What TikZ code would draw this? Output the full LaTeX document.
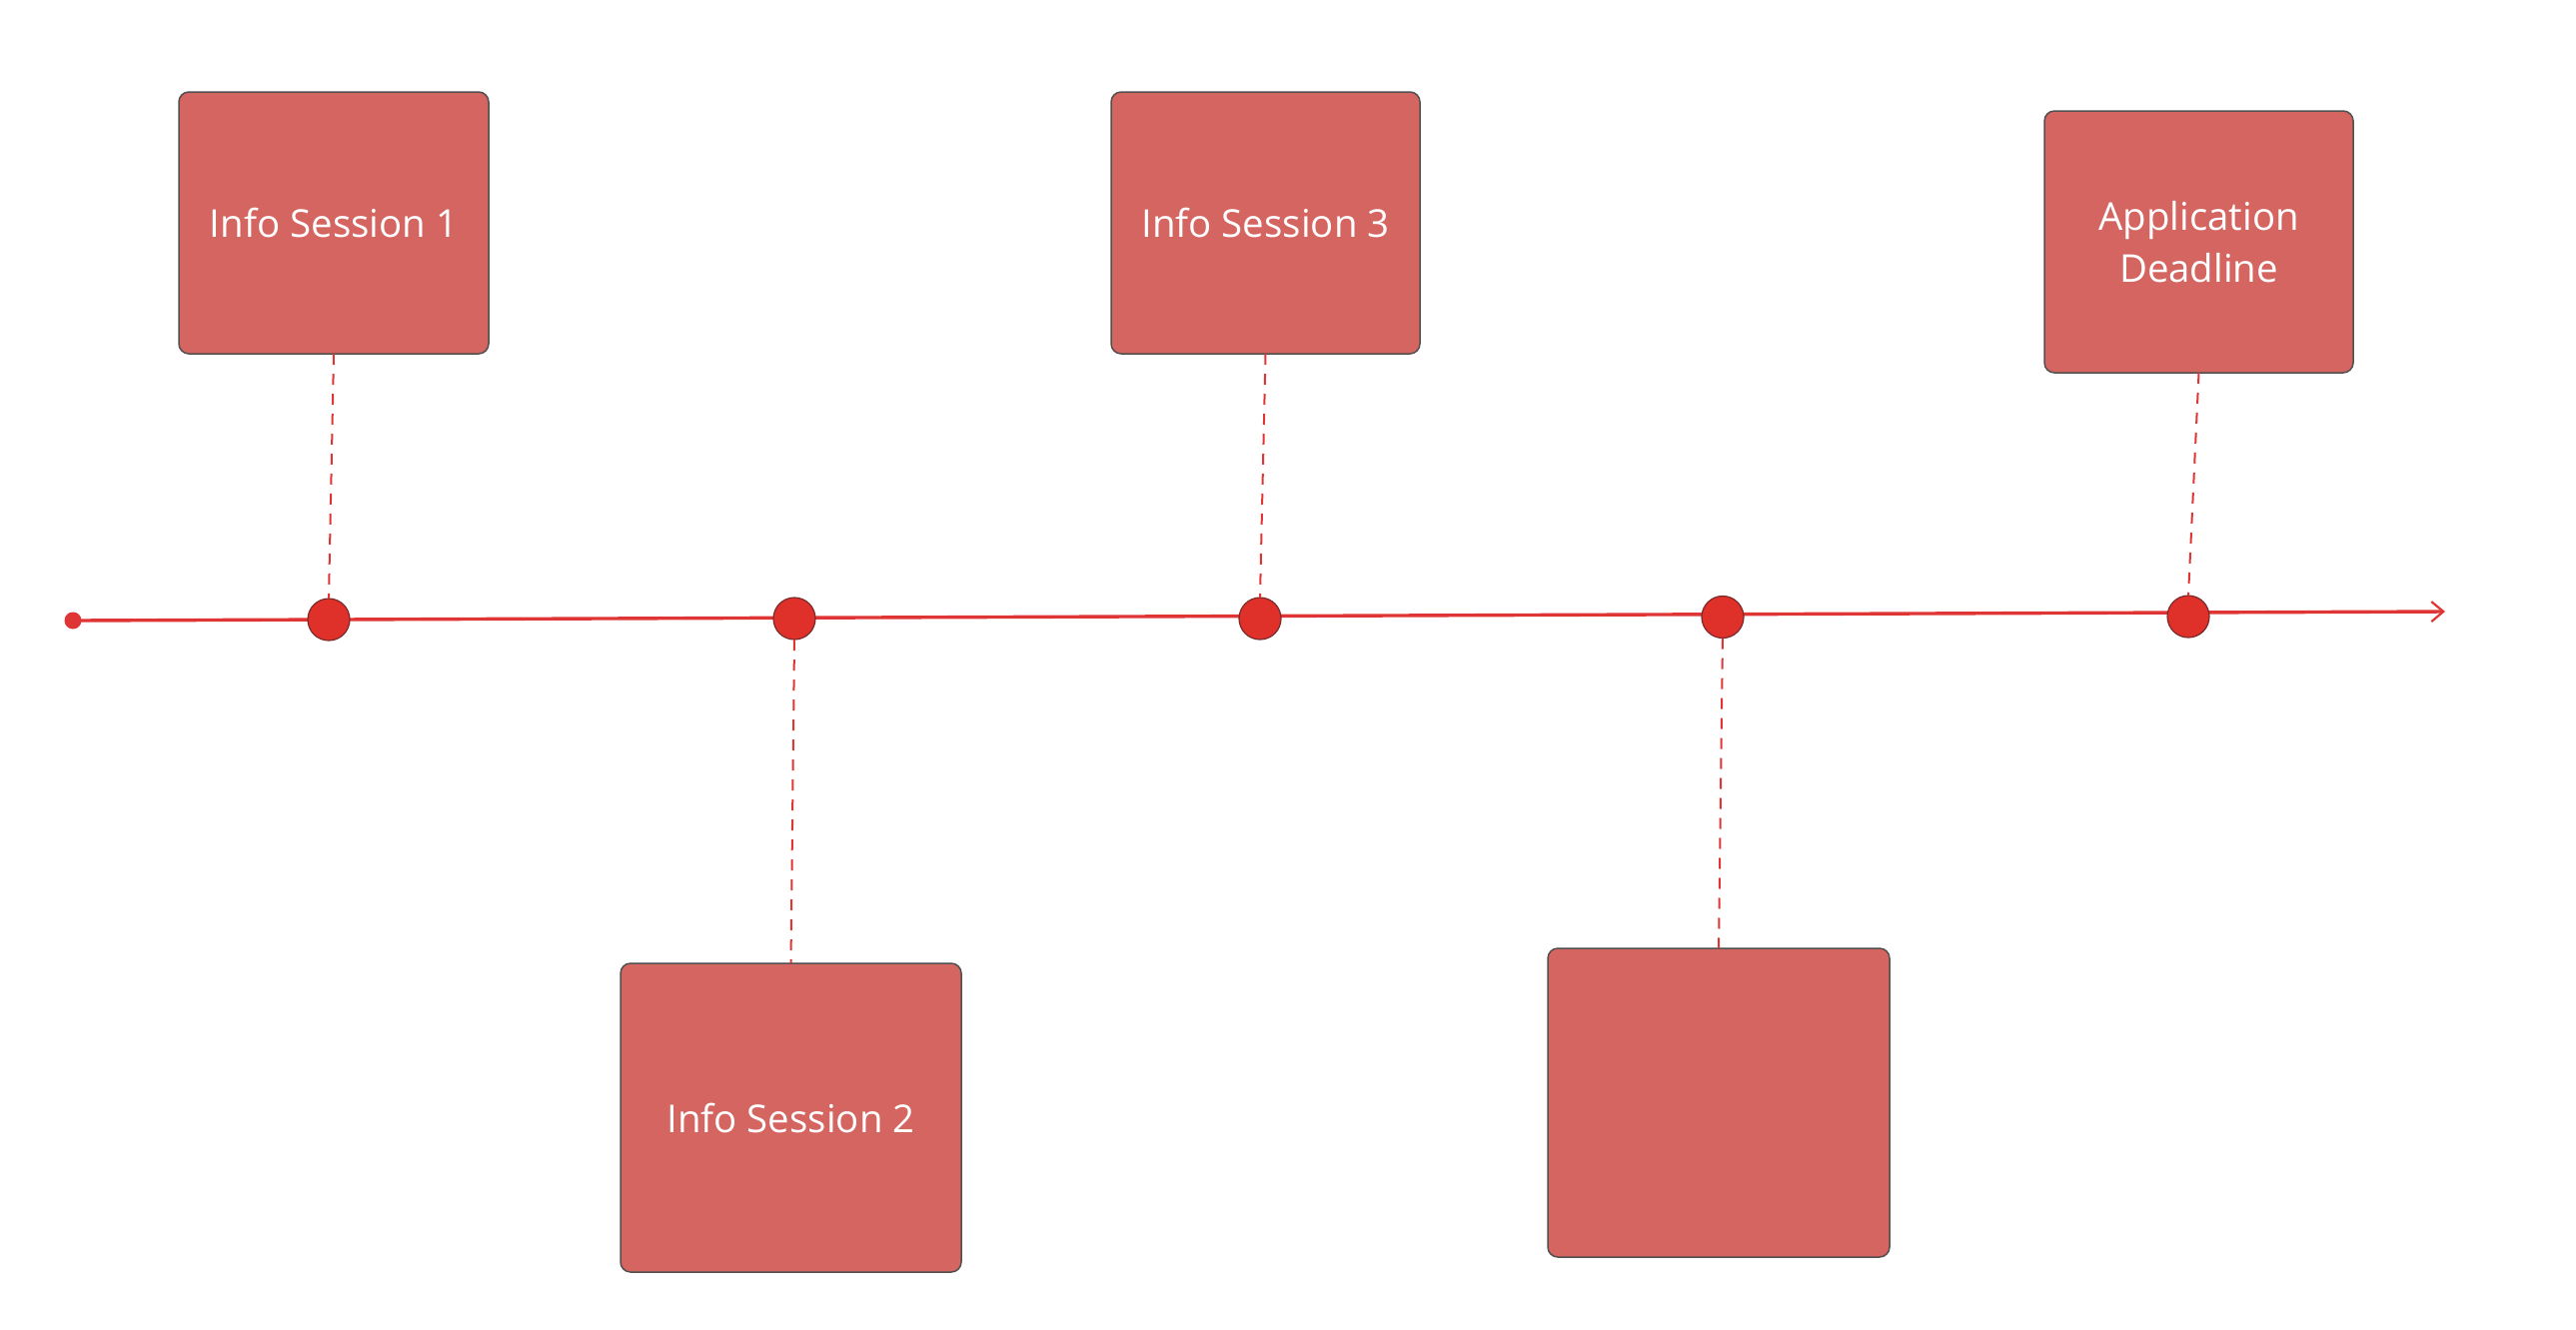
\documentclass[tikz,border=0pt]{standalone}
\usepackage{fontspec}
\setmainfont{Open Sans}
\usetikzlibrary{arrows.meta,backgrounds}
\definecolor{boxfill}{HTML}{D46560}
\definecolor{boxline}{HTML}{505050}
\definecolor{dotfill}{HTML}{E0302A}
\definecolor{dotline}{HTML}{7A2A2A}
\definecolor{tline}{HTML}{E03535}
\tikzset{
  evbox/.style={draw=boxline, line width=0.75pt, fill=boxfill, rounded corners=5pt,
    text=white, font=\fontsize{19.2}{25.8}\selectfont, align=center,
    inner sep=0pt, outer sep=0pt},
  evdot/.style={circle, draw=dotline, line width=0.6pt, fill=dotfill,
    minimum size=21pt, inner sep=0pt, outer sep=0pt},
  startdot/.style={circle, fill=tline, minimum size=8.5pt, inner sep=0pt, outer sep=0pt},
  tlink/.style={draw=tline, line width=1pt, dash pattern=on 5.5pt off 4.5pt},
  axis/.style={draw=tline, line width=1.7pt, -{Straight Barb[length=6pt,width=10pt,line width=1.1pt]}}
}
\begin{document}
\begin{tikzpicture}[x=0.5pt,y=-0.5pt]
\useasboundingbox (0,0) rectangle (2578,1330);
% timeline points
\node[startdot] (s) at (73,621) {};
\coordinate (e) at (2447,612);
\node[evdot] (d1) at (329,620) {};
\node[evdot] (d2) at (795,619) {};
\node[evdot] (d3) at (1261,619) {};
\node[evdot] (d4) at (1724,617.5) {};
\node[evdot] (d5) at (2190,617) {};
% boxes
\node[evbox, minimum width=155pt, minimum height=131pt] (b1) at (334,223) {Info Session 1};
\node[evbox, minimum width=170.5pt, minimum height=154.5pt] (b2) at (791.5,1118.5) {Info Session 2};
\node[evbox, minimum width=154.5pt, minimum height=131pt] (b3) at (1266.5,223) {Info Session 3};
\node[evbox, minimum width=171pt, minimum height=154.5pt] (b4) at (1720,1103.5) {};
\node[evbox, minimum width=154.5pt, minimum height=131pt] (b5) at (2200.5,242) {Application\\Deadline};
\begin{pgfonlayer}{background}
\draw[axis] (s.center) -- (e);
\end{pgfonlayer}
% connectors
\draw[tlink] (b1.south) -- (d1.north);
\draw[tlink] (d2.south) -- (b2.north);
\draw[tlink] (b3.south) -- (d3.north);
\draw[tlink] (d4.south) -- (b4.north);
\draw[tlink] (b5.south) -- (d5.north);
\end{tikzpicture}
\end{document}
